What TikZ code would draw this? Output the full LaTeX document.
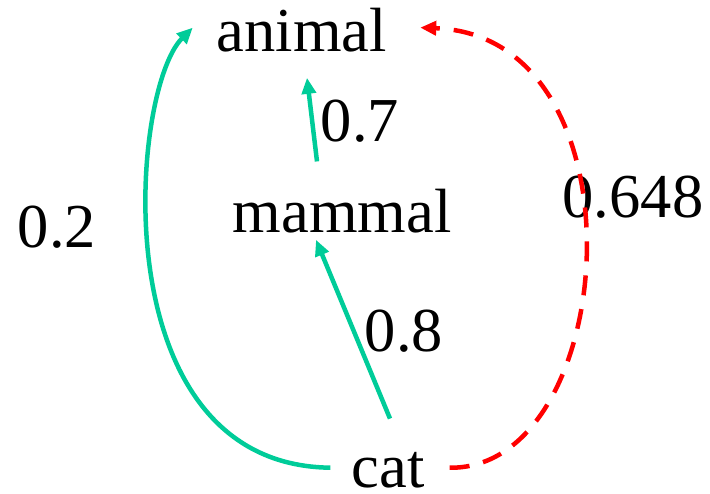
\documentclass[tikz,border=0pt]{standalone}
\usepackage{fontspec}
\setmainfont{Liberation Serif}
\newfontfamily\termfont{Liberation Serif}
\usepackage{tikz}
\usetikzlibrary{arrows.meta}
\definecolor{isagreen}{RGB}{0,204,153}

\begin{document}
\begin{tikzpicture}[x=1pt, y=-1pt, font=\termfont\fontsize{62.5}{70}\selectfont,
  term/.style={inner sep=0pt, anchor=base},
  wt/.style={inner sep=0pt, anchor=base},
  isa/.style={line width=4.5pt, draw=isagreen, -{Triangle[length=16pt, width=14pt]}},
  infer/.style={line width=4.5pt, draw=red, dash pattern=on 20pt off 14pt, -{Triangle[length=16pt, width=14pt]}}]
\useasboundingbox (0,0) rectangle (710,494);
\node[term] (animal) at (302,52) {animal};
\node[term] (mammal) at (342,233) {mammal};
\node[term] (cat) at (388,487) {cat};
\node[wt] (w02) at (57,248) {0.2};
\node[wt] (w07) at (360,142) {0.7};
\node[wt] (w08) at (404,352) {0.8};
\node[wt] (w0648) at (633,218) {0.648};
\draw[isa] ([shift={(2,-33)}]cat.north) -- ([shift={(-26,6)}]mammal.south);
\draw[isa] ([shift={(-25,-28)}]mammal.north) -- ([shift={(5,25)}]animal.south);
\draw[isa] ([shift={(-21,-2)}]cat.west) .. controls (100,465) and (130,90) .. ([shift={(-24,-3)}]animal.west);
\draw[infer] ([shift={(25,-2)}]cat.east) .. controls (620,470) and (650,36) .. ([shift={(33,-3)}]animal.east);
\end{tikzpicture}
\end{document}
